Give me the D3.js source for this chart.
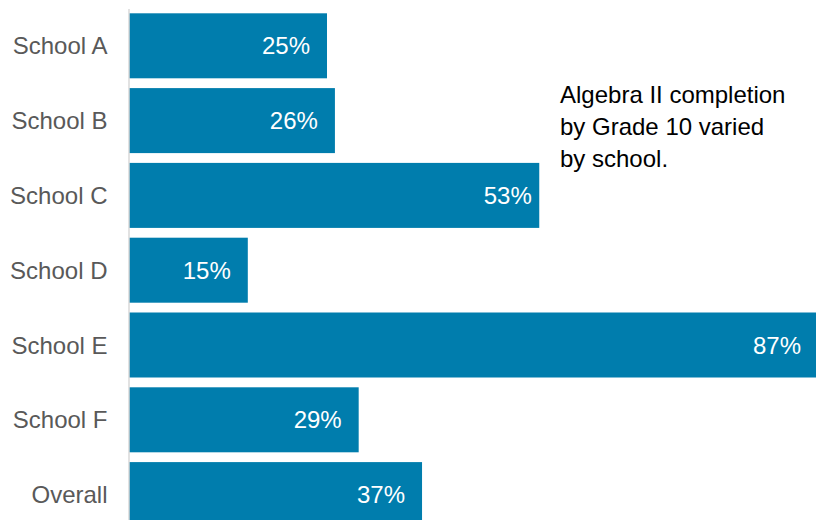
<!DOCTYPE html>
<html>
<head>
<meta charset="utf-8">
<script src="https://cdn.jsdelivr.net/npm/d3@7"></script>
<style>
  body { margin: 0; background: #fff; }
  svg { display: block; font-family: "Liberation Sans", Arial, sans-serif; }
  .y-axis text { fill: #595959; font-size: 24px; }
  .y-axis path { stroke: #d9d9d9; stroke-width: 1.5; }
</style>
</head>
<body>
<div class="chart"></div>
<script>
// data
var schools = ["School A", "School B", "School C", "School D", "School E", "School F", "Overall"];
var completion = [25, 26, 51.8, 15, 87, 29, 37];      // bar lengths as drawn
var labelPct = [25, 26, 53, 15, 87, 29, 37];           // printed labels
var note = ["Algebra II completion", "by Grade 10 varied", "by school."];

var svgWidth = 816;
var svgHeight = 520;
var barColor = "#007dad";

var svg = d3.select(".chart").append("svg")
    .attr("width", svgWidth)
    .attr("height", svgHeight);

var x = d3.scaleLinear().domain([0, 100]).range([129, 921]);

var y = d3.scaleBand()
    .domain(schools)
    .range([8.4, 532])
    .paddingInner(0.131)
    .paddingOuter(0.0655);

// bars
svg.selectAll("rect.bar")
    .data(schools)
    .enter()
    .append("rect")
    .attr("class", "bar")
    .attr("x", x(0))
    .attr("y", function(d) { return y(d); })
    .attr("width", function(d, i) { return x(completion[i]) - x(0); })
    .attr("height", y.bandwidth())
    .attr("fill", barColor);

// value labels inside the bars
svg.selectAll("text.val")
    .data(schools)
    .enter()
    .append("text")
    .attr("class", "val")
    .attr("x", function(d, i) { return x(labelPct[i]) - 17; })
    .attr("y", function(d) { return y(d) + y.bandwidth() / 2; })
    .attr("dy", "0.36em")
    .attr("text-anchor", "end")
    .attr("fill", "#fff")
    .style("font-size", "24px")
    .text(function(d, i) { return labelPct[i] + "%"; });

// category axis
var yAxis = svg.append("g")
    .attr("class", "y-axis")
    .attr("transform", "translate(128.5,0)")
    .call(d3.axisLeft(y).tickSize(0).tickPadding(21));
yAxis.selectAll("text").attr("dy", "0.36em");

// annotation
svg.append("text")
    .attr("x", 560)
    .attr("y", 103)
    .attr("fill", "#000")
    .style("font-size", "24px")
    .selectAll("tspan")
    .data(note)
    .enter()
    .append("tspan")
    .attr("x", 560)
    .attr("dy", function(d, i) { return i === 0 ? 0 : 32; })
    .text(function(d) { return d; });
</script>
</body>
</html>
